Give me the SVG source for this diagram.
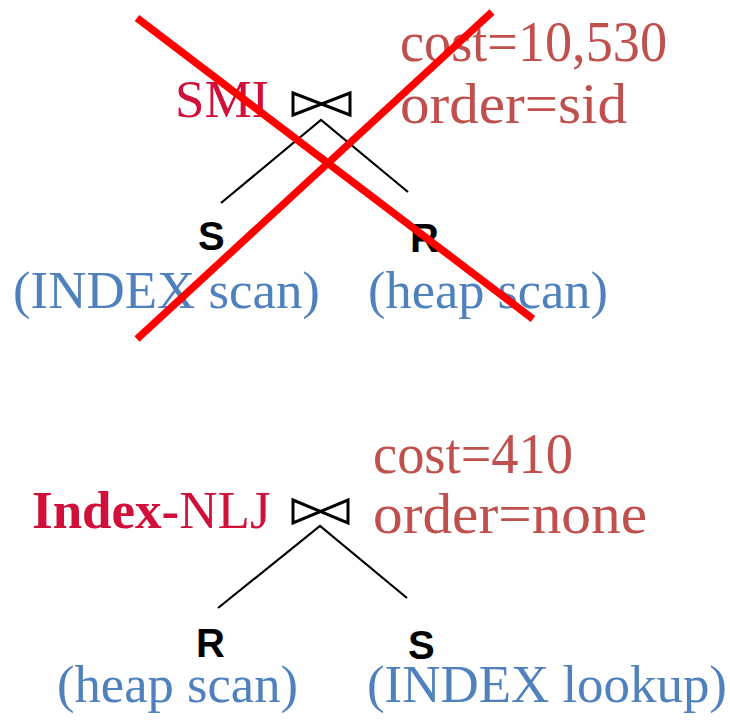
<svg xmlns="http://www.w3.org/2000/svg" width="730" height="727" viewBox="0 0 730 727">
<style>
.alg{font-family:"Liberation Serif","Times New Roman",serif;font-size:53px;fill:#D0103A}
.cost{font-family:"Liberation Serif","Times New Roman",serif;font-size:57px;fill:#C0504D}
.scan{font-family:"Liberation Serif","Times New Roman",serif;font-size:52px;fill:#4F81BD}
.rel{font-family:"Liberation Sans",Arial,sans-serif;font-size:40px;font-weight:bold;fill:#000}
.bow{fill:none;stroke:#000;stroke-width:3;stroke-linejoin:miter}
.edge{fill:none;stroke:#000;stroke-width:2.2}
.cross{stroke:#FF0000;stroke-width:7.5;stroke-linecap:butt}
</style>
<rect width="730" height="727" fill="#fff"/>
<g id="connectors">
<polyline class="edge" points="221,203 321,120 408,192"/>
<polyline class="edge" points="218,608 320,526 407,598"/>
</g>
<g id="smi-join">
<text class="alg" x="175" y="117">SMI</text>
<polygon class="bow" points="293,93 350,115 350,93 293,115"/>
<text class="cost" x="400" y="61" textLength="267" lengthAdjust="spacingAndGlyphs">cost=10,530</text>
<text class="cost" x="400" y="123" textLength="227" lengthAdjust="spacingAndGlyphs">order=sid</text>
</g>
<g id="smi-s">
<text class="rel" x="198" y="250">S</text>
<text class="scan" x="13" y="308" textLength="307" lengthAdjust="spacingAndGlyphs">(INDEX scan)</text>
</g>
<g id="smi-r">
<text class="rel" x="410" y="252">R</text>
<text class="scan" x="368" y="308" textLength="240" lengthAdjust="spacingAndGlyphs">(heap scan)</text>
</g>
<g id="cross-out">
<line class="cross" x1="137" y1="18" x2="533" y2="319"/>
<line class="cross" x1="492" y1="12" x2="137" y2="339"/>
</g>
<g id="inlj-join">
<text class="alg" x="32" y="528"><tspan font-weight="bold">Index-</tspan>NLJ</text>
<polygon class="bow" points="293,500 348,523 348,500 293,523"/>
<text class="cost" x="373" y="473" textLength="200" lengthAdjust="spacingAndGlyphs">cost=410</text>
<text class="cost" x="373" y="533" textLength="274" lengthAdjust="spacingAndGlyphs">order=none</text>
</g>
<g id="inlj-r">
<text class="rel" x="196" y="657">R</text>
<text class="scan" x="57" y="702" textLength="241" lengthAdjust="spacingAndGlyphs">(heap scan)</text>
</g>
<g id="inlj-s">
<text class="rel" x="408" y="659">S</text>
<text class="scan" x="367" y="702" textLength="360" lengthAdjust="spacingAndGlyphs">(INDEX lookup)</text>
</g>
</svg>
